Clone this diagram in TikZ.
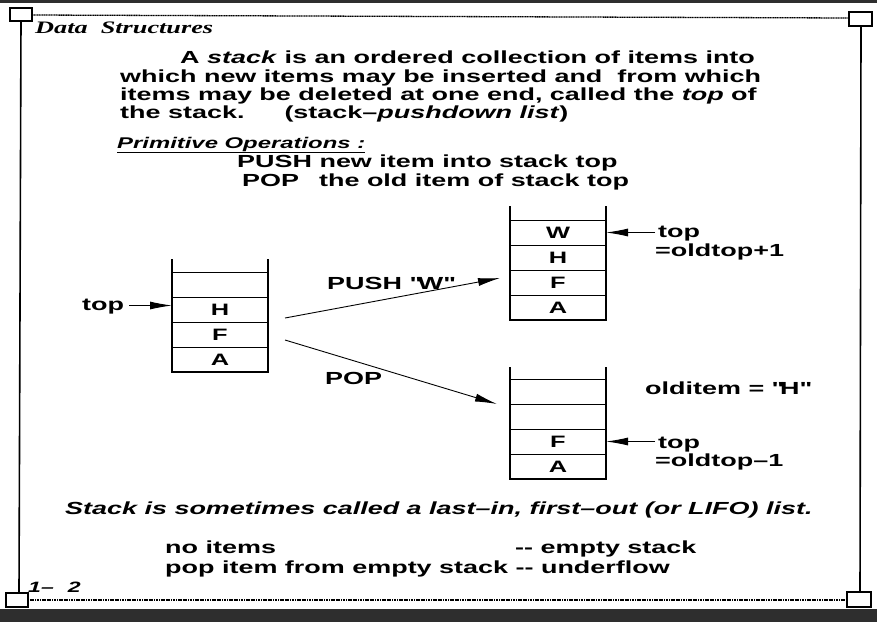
\documentclass[tikz,border=0pt]{standalone}
\usepackage{fontspec}
\setmainfont{Liberation Serif}[FakeStretch=1.5]
\setsansfont{Liberation Sans}[FakeStretch=1.54]
\usetikzlibrary{arrows.meta,positioning,calc}
\definecolor{scanbar}{HTML}{2E2E2E}

\begin{document}
\begin{tikzpicture}[x=1pt,y=-1pt,
    txt/.style={font=\sffamily\bfseries\fontsize{17.5}{20}\selectfont, inner sep=0pt, anchor=base west},
    cell/.style={draw, line width=0.6pt, minimum width=96pt, minimum height=25pt, inner sep=0pt, outer sep=0pt,
                 font=\sffamily\bfseries\fontsize{16.5}{18}\selectfont},
    wall/.style={line width=1.2pt},
    ptr/.style={-{Latex[length=22pt,width=8pt]}, line width=0.9pt},
    frame/.style={line width=1.6pt},
    dotline/.style={line width=1.3pt, dash pattern=on 1.2pt off 0.5pt}]
    \useasboundingbox (0,0) rectangle (877,622);
    \fill[white] (0,0) rectangle (877,622);
    \fill[scanbar] (0,0) rectangle (877,3);
    \fill[scanbar] (0,609) rectangle (877,622);

    % page frame
    \draw[frame] (10,8) rectangle (32,21);
    \draw[frame] (849,12) rectangle (872,26);
    \draw[frame] (6,593) rectangle (28,607);
    \draw[frame] (847,592) rectangle (871,607);
    \draw[dotline] (32,15) -- (849,18);
    \draw[dotline] (28,600) -- (847,600);
    \draw[frame] (21,21) -- (19,593);
    \draw[frame] (861,26) -- (860,592);

    % header and definition
    \node[txt, font=\bfseries\itshape\fontsize{17.5}{20}\selectfont] (hdr) at (35,33) {Data\ \ Structures};
    \node[txt] (def1) at (180,63) {A \textit{stack} is an ordered collection of items into};
    \node[txt] (def2) at (120,82) {which new items may be inserted and\ \ from which};
    \node[txt] (def3) at (120,100) {items may be deleted at one end, called the \textit{top} of};
    \node[txt] (def4) at (120,118) {the stack.\hspace{40pt}(stack--\textit{pushdown list})};

    % primitive operations
    \node[txt, font=\sffamily\bfseries\fontsize{15.5}{18}\selectfont] (prim) at (117,148) {\underline{\textit{Primitive Operations :}}};
    \node[txt] (opPush) at (237,167) {PUSH new item into stack top};
    \node[txt] (opPop) at (242,186) {POP\hspace{20pt}the old item of stack top};

    % old stack
    \node[cell] (lA) at (220,359.5) {A};
    \node[cell, above=0pt of lA] (lF) {F};
    \node[cell, above=0pt of lF] (lH) {H};
    \node[cell, above=0pt of lH] (lE) {};
    \draw[wall] ($(lE.north west)+(0,-13)$) -- (lA.south west) -- (lA.south east) -- ($(lE.north east)+(0,-13)$);
    \node[txt] (topL) at (82,310) {top};
    \draw[ptr] (topL.east |- lH) ++(5,-4) -- ($(lH.west)+(0,-4)$);

    % stack after push
    \node[cell] (pA) at (558,307.5) {A};
    \node[cell, above=0pt of pA] (pF) {F};
    \node[cell, above=0pt of pF] (pH) {H};
    \node[cell, above=0pt of pH] (pW) {W};
    \draw[wall] ($(pW.north west)+(0,-14)$) -- (pA.south west) -- (pA.south east) -- ($(pW.north east)+(0,-14)$);
    \node[txt] (topP) at (658,237) {top};
    \node[txt] (newTop) at (655,256) {=oldtop+1};
    \draw[ptr] ($(topP.west |- pW)+(-3,0)$) -- (pW.east);

    % stack after pop
    \node[cell] (qA) at (558,466.5) {A};
    \node[cell, above=0pt of qA] (qF) {F};
    \node[cell, above=0pt of qF] (qE2) {};
    \node[cell, above=0pt of qE2] (qE1) {};
    \draw[wall] ($(qE1.north west)+(0,-12)$) -- (qA.south west) -- (qA.south east) -- ($(qE1.north east)+(0,-12)$);
    \node[txt] (oldItem) at (645,394) {olditem = \textquotedbl H\textquotedbl};
    \node[txt] (topQ) at (658,448) {top};
    \node[txt] (decTop) at (655,466) {=oldtop--1};
    \draw[ptr] ($(topQ.west |- qF)+(-3,0)$) -- (qF.east);

    % operations
    \coordinate (pushFrom) at (285,318);
    \coordinate (pushTo) at (500,278);
    \coordinate (popFrom) at (285,340);
    \coordinate (popTo) at (497,404);
    \draw[ptr] (pushFrom) -- (pushTo);
    \draw[ptr] (popFrom) -- (popTo);
    \node[txt] (pushLbl) at (327,289) {PUSH \textquotedbl W\textquotedbl};
    \node[txt] (popLbl) at (325,384) {POP};

    % remarks
    \node[txt] (lifo) at (65,514) {\textit{Stack is sometimes called a last--in, first--out (or LIFO) list.}};
    \node[txt] (noItems) at (165,553) {no items};
    \node[txt] (emptyS) at (515,553) {-{}-\ empty stack};
    \node[txt] (under) at (165,573) {pop item from empty stack -{}-\ underflow};
    \node[txt, font=\sffamily\bfseries\itshape\fontsize{15}{17}\selectfont] (pgNo) at (28,592) {1--\hspace{14pt}2};
\end{tikzpicture}
\end{document}
